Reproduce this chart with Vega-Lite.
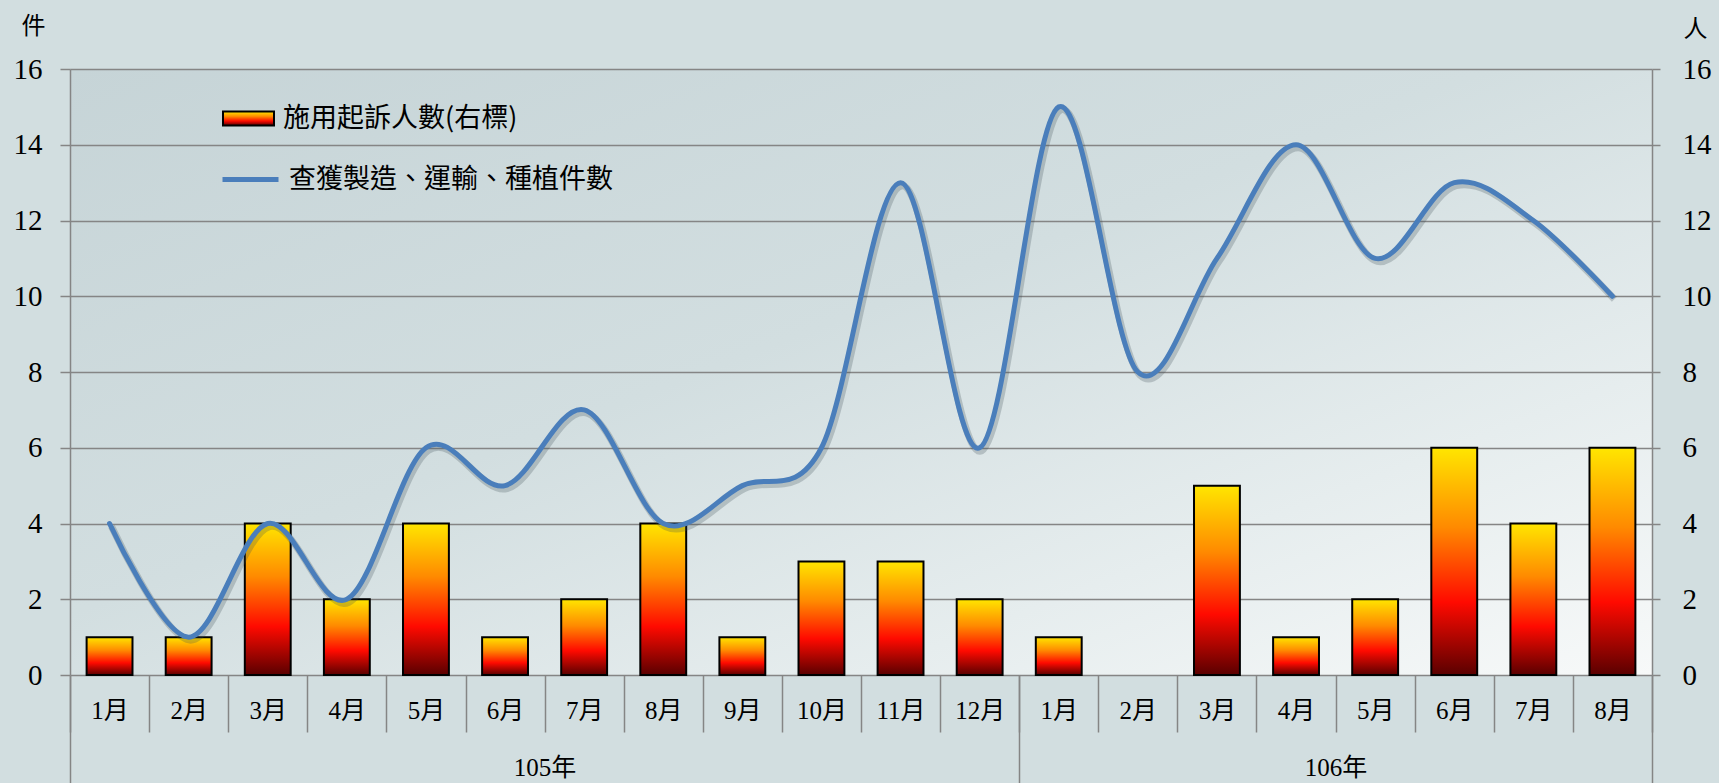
{
  "$schema": "https://vega.github.io/schema/vega-lite/v6.json",
  "width": 1582,
  "height": 606,
  "autosize": {"type": "none"},
  "padding": {"left": 70, "top": 69, "right": 67, "bottom": 108},
  "background": "#d2dee0",
  "view": {
    "stroke": null,
    "fill": {
      "gradient": "linear", "x1": 0, "y1": 0, "x2": 1, "y2": 1,
      "stops": [
        {"offset": 0, "color": "#c6d4d7"},
        {"offset": 0.45, "color": "#d2dee0"},
        {"offset": 0.75, "color": "#e6edee"},
        {"offset": 1, "color": "#f7f9f9"}
      ]
    }
  },
  "config": {
    "font": "Liberation Serif, Noto Sans CJK TC",
    "axis": {"labelColor": "#000000", "titleColor": "#000000"}
  },
  "datasets": {
    "monthly": [
      {"key": "105年1月", "year": "105年", "month": "1月", "cases": 4, "people": 1},
      {"key": "105年2月", "year": "105年", "month": "2月", "cases": 1, "people": 1},
      {"key": "105年3月", "year": "105年", "month": "3月", "cases": 4, "people": 4},
      {"key": "105年4月", "year": "105年", "month": "4月", "cases": 2, "people": 2},
      {"key": "105年5月", "year": "105年", "month": "5月", "cases": 6, "people": 4},
      {"key": "105年6月", "year": "105年", "month": "6月", "cases": 5, "people": 1},
      {"key": "105年7月", "year": "105年", "month": "7月", "cases": 7, "people": 2},
      {"key": "105年8月", "year": "105年", "month": "8月", "cases": 4, "people": 4},
      {"key": "105年9月", "year": "105年", "month": "9月", "cases": 5, "people": 1},
      {"key": "105年10月", "year": "105年", "month": "10月", "cases": 6, "people": 3},
      {"key": "105年11月", "year": "105年", "month": "11月", "cases": 13, "people": 3},
      {"key": "105年12月", "year": "105年", "month": "12月", "cases": 6, "people": 2},
      {"key": "106年1月", "year": "106年", "month": "1月", "cases": 15, "people": 1},
      {"key": "106年2月", "year": "106年", "month": "2月", "cases": 8, "people": 0},
      {"key": "106年3月", "year": "106年", "month": "3月", "cases": 11, "people": 5},
      {"key": "106年4月", "year": "106年", "month": "4月", "cases": 14, "people": 1},
      {"key": "106年5月", "year": "106年", "month": "5月", "cases": 11, "people": 2},
      {"key": "106年6月", "year": "106年", "month": "6月", "cases": 13, "people": 6},
      {"key": "106年7月", "year": "106年", "month": "7月", "cases": 12, "people": 4},
      {"key": "106年8月", "year": "106年", "month": "8月", "cases": 10, "people": 6}
    ],
    "years": [
      {"year": "105年", "start": 0, "end": 12},
      {"year": "106年", "start": 12, "end": 20}
    ]
  },
  "layer": [
    {
      "data": {"name": "years"},
      "mark": {"type": "rule", "opacity": 0},
      "encoding": {
        "x": {
          "field": "start", "type": "quantitative",
          "scale": {"domain": [0, 20], "nice": false, "zero": false},
          "axis": {
            "orient": "bottom",
            "values": [0, 6, 12, 16, 20],
            "labelExpr": "datum.value == 6 ? '105年' : datum.value == 16 ? '106年' : ''",
            "tickSize": 108, "tickWidth": 1.5, "tickColor": "#858585",
            "tickOpacity": {"condition": {"test": "datum.value == 6 || datum.value == 16", "value": 0}, "value": 1},
            "domain": false, "grid": false, "title": null,
            "labelFontSize": 25, "labelPadding": -16, "labelBaseline": "middle",
            "labelFlush": false, "labelOverlap": false
          }
        }
      }
    },
    {
      "data": {"name": "monthly"},
      "transform": [{"filter": "datum.people > 0"}],
      "mark": {
        "type": "bar", "strokeWidth": 2,
        "width": {"band": 0.58},
        "fill": {
          "gradient": "linear", "x1": 0, "y1": 0, "x2": 0, "y2": 1,
          "stops": [
            {"offset": 0, "color": "#ffe600"},
            {"offset": 0.35, "color": "#ff8a00"},
            {"offset": 0.68, "color": "#ff0a00"},
            {"offset": 1, "color": "#5a0000"}
          ]
        }
      },
      "encoding": {
        "x": {
          "field": "key", "type": "ordinal", "sort": null,
          "scale": {
            "paddingInner": 0, "paddingOuter": 0,
            "domain": ["105年1月","105年2月","105年3月","105年4月","105年5月","105年6月","105年7月","105年8月","105年9月","105年10月","105年11月","105年12月","106年1月","106年2月","106年3月","106年4月","106年5月","106年6月","106年7月","106年8月"]
          },
          "axis": {
            "orient": "bottom",
            "labelExpr": "substring(datum.label, 4)",
            "tickBand": "extent",
            "tickSize": 57, "tickWidth": 1.5, "tickColor": "#858585",
            "domain": false, "grid": false, "title": null,
            "labelAngle": 0, "labelFontSize": 25, "labelPadding": -22, "labelBaseline": "middle"
          }
        },
        "y": {
          "field": "people", "type": "quantitative",
          "scale": {"domain": [0, 16], "nice": false},
          "axis": {
            "orient": "right",
            "values": [0, 2, 4, 6, 8, 10, 12, 14, 16],
            "grid": false,
            "domainColor": "#858585", "domainWidth": 1.5,
            "tickColor": "#858585", "tickWidth": 1.5, "tickSize": 8,
            "labelFontSize": 29, "labelPadding": 22,
            "title": "人", "titleAngle": 0, "titleX": 43, "titleY": -40,
            "titleAlign": "center", "titleBaseline": "middle",
            "titleFont": "Noto Sans CJK TC", "titleFontSize": 24, "titleFontWeight": "normal"
          }
        },
        "stroke": {
          "datum": "施用起訴人數(右標)",
          "type": "nominal",
          "scale": {"range": ["#000000"]},
          "legend": {
            "orient": "none", "legendX": 152, "legendY": 23,
            "title": null, "padding": 0,
            "symbolType": "M-1,-0.27H1V0.27H-1Z", "symbolSize": 2601,
            "symbolStrokeWidth": 2,
            "labelFont": "Noto Sans CJK TC", "labelFontSize": 27, "labelColor": "#000000",
            "labelOffset": 8, "labelLimit": 700
          }
        }
      }
    },
    {
      "data": {"name": "monthly"},
      "mark": {"type": "line", "interpolate": "cardinal", "stroke": "#3c4a55", "strokeWidth": 7, "opacity": 0.25, "xOffset": 2, "yOffset": 3},
      "encoding": {
        "x": {"field": "key", "type": "ordinal", "sort": null, "axis": null},
        "y": {"field": "cases", "type": "quantitative", "scale": {"domain": [0, 16], "nice": false}, "axis": null}
      }
    },
    {
      "data": {"name": "monthly"},
      "mark": {"type": "line", "interpolate": "cardinal", "strokeWidth": 5, "strokeCap": "round"},
      "encoding": {
        "x": {"field": "key", "type": "ordinal", "sort": null, "axis": null},
        "y": {
          "field": "cases", "type": "quantitative",
          "scale": {"domain": [0, 16], "nice": false},
          "axis": {
            "orient": "left",
            "values": [0, 2, 4, 6, 8, 10, 12, 14, 16],
            "grid": true, "gridColor": "#858585", "gridWidth": 1.5,
            "domainColor": "#858585", "domainWidth": 1.5,
            "tickColor": "#858585", "tickWidth": 1.5, "tickSize": 10,
            "labelFontSize": 29, "labelPadding": 18,
            "title": "件", "titleAngle": 0, "titleX": -37, "titleY": -43,
            "titleAlign": "center", "titleBaseline": "middle",
            "titleFont": "Noto Sans CJK TC", "titleFontSize": 24, "titleFontWeight": "normal"
          }
        },
        "stroke": {
          "datum": "查獲製造、運輸、種植件數",
          "type": "nominal",
          "scale": {"range": ["#4a7ebb"]},
          "legend": {
            "orient": "none", "legendX": 150, "legendY": 80,
            "title": null, "padding": 0,
            "symbolType": "stroke", "symbolSize": 3136, "symbolStrokeWidth": 5,
            "labelFont": "Noto Sans CJK TC", "labelFontSize": 27, "labelColor": "#000000",
            "labelOffset": 8, "labelLimit": 700
          }
        }
      }
    }
  ],
  "resolve": {
    "scale": {"x": "independent", "y": "independent", "stroke": "independent"},
    "axis": {"x": "independent", "y": "independent"},
    "legend": {"stroke": "independent"}
  }
}
